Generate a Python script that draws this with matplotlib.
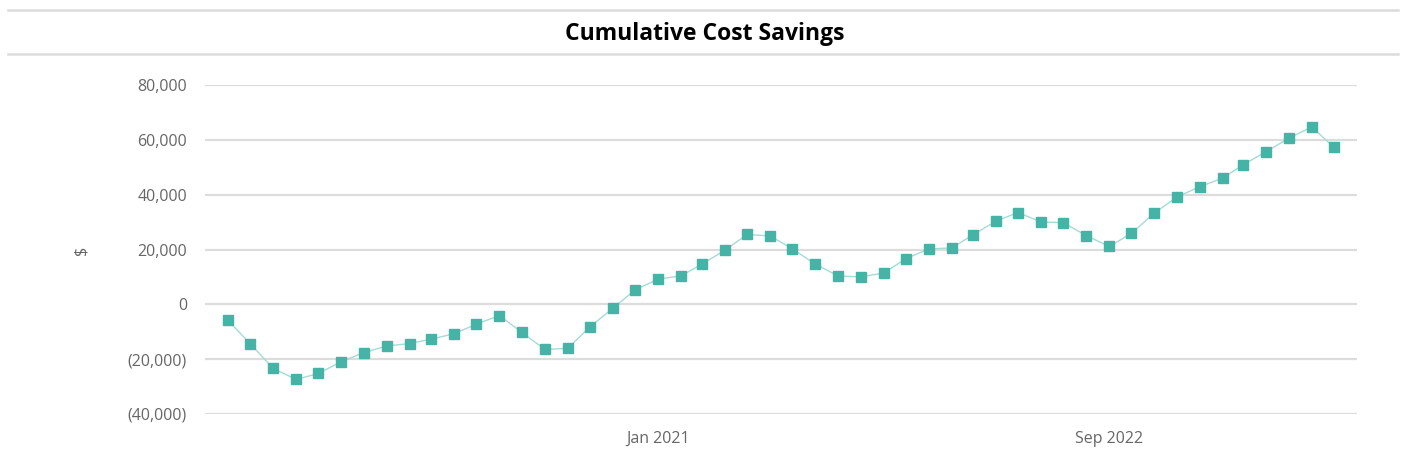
import matplotlib
matplotlib.use("Agg")
import matplotlib.pyplot as plt
import matplotlib.dates as mdates
import matplotlib.ticker as mticker
import pandas as pd

plt.rcParams['font.family'] = ['Open Sans', 'DejaVu Sans']

# monthly cumulative savings, Jun 2019 .. Jul 2023
months = pd.date_range("2019-06-01", periods=50, freq="MS")
savings = [-5800, -14400, -23400, -27400, -25200, -20900, -17600, -15200, -14300, -12700,
           -10700, -7200, -4100, -10200, -16400, -16100, -8200, -1400, 5300, 9200,
           10400, 14650, 19750, 25500, 24950, 20200, 14650, 10300, 10050, 11400,
           16700, 20200, 20600, 25300, 30300, 33500, 30050, 29800, 25100, 21100,
           25900, 33300, 39100, 42900, 46050, 51000, 55750, 60600, 64700, 57300]
xtick_dates = pd.to_datetime(["2021-01-01", "2022-09-01"])
yticks = [-40000, -20000, 0, 20000, 40000, 60000, 80000]

teal = "#45b3a5"
line_teal = "#a6dbd3"
grid_grey = "#dcdcdc"
text_grey = "#666666"

fig = plt.figure(figsize=(14.04, 4.74), dpi=100)
ax = fig.add_axes([0.146, 0.1266, 0.8205, 0.694])

ax.plot(months, savings, color=line_teal, lw=1.0, zorder=2)
ax.plot(months, savings, ls="none", marker="s", ms=7.5, color=teal, zorder=3)

ax.set_ylim(-40000, 80000)
ax.set_yticks(yticks)
ax.set_xlim(months[0] - pd.DateOffset(months=1), months[-1] + pd.DateOffset(months=1))
ax.set_xticks(xtick_dates)
ax.xaxis.set_major_formatter(mdates.DateFormatter("%b %Y"))

def money(v, pos):
    if v < 0:
        return "({:,.0f})".format(-v)
    return "{:,.0f}".format(v)

ax.yaxis.set_major_formatter(mticker.FuncFormatter(money))
ax.grid(axis="y", color=grid_grey, lw=1.6)
ax.set_axisbelow(True)
for s in ax.spines.values():
    s.set_visible(False)
ax.tick_params(axis="both", length=0, colors=text_grey, labelsize=11.5)
ax.tick_params(axis="y", pad=13)
ax.tick_params(axis="x", pad=12)

fig.text(82 / 1404, 1 - 250 / 474, "$", rotation=90, ha="center", va="center",
         color=text_grey, fontsize=11.5)

# header band with title between two rules
fig.add_artist(plt.Line2D([8 / 1404, 1398 / 1404], [1 - 10 / 474] * 2, color=grid_grey, lw=1.8))
fig.add_artist(plt.Line2D([8 / 1404, 1398 / 1404], [1 - 54 / 474] * 2, color=grid_grey, lw=1.8))
fig.text(705 / 1404, 1 - 34 / 474, "Cumulative Cost Savings", ha="center", va="center",
         fontsize=16.5, fontweight="bold", color="black")

fig.savefig("out.png", dpi=100)
